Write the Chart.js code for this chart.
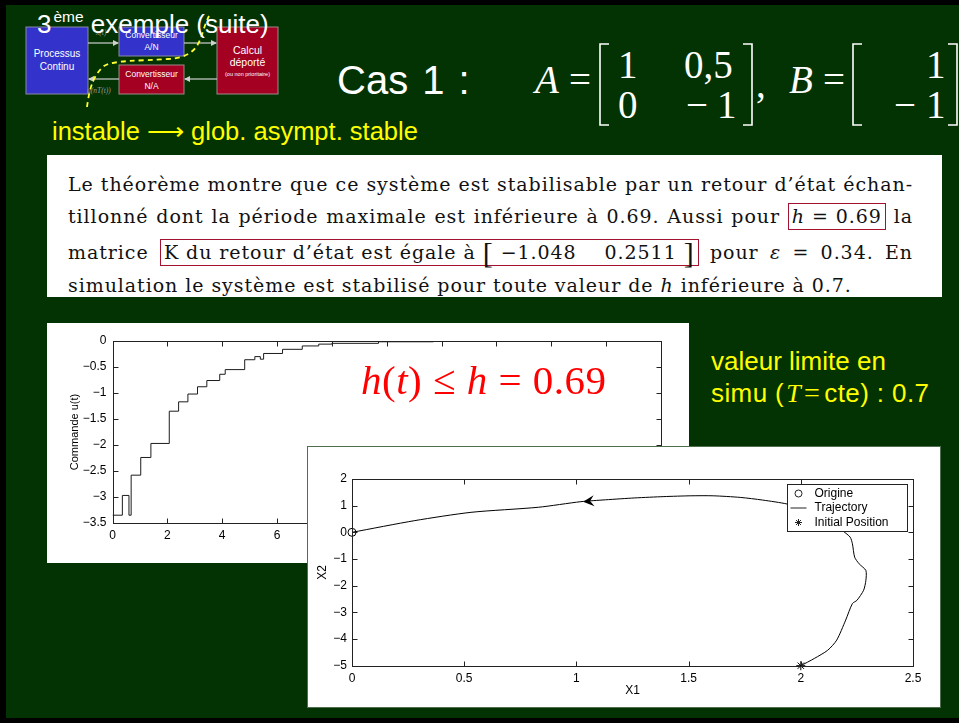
<!DOCTYPE html>
<html lang="fr">
<head>
<meta charset="utf-8">
<title>3ème exemple (suite)</title>
<script src="https://cdn.jsdelivr.net/npm/chart.js@4.4.1/dist/chart.umd.min.js"></script>
<style>
  html, body { margin:0; padding:0; width:959px; height:723px; overflow:hidden; background:#000; }
  .abs { position:absolute; white-space:nowrap; }
  #slide { position:absolute; left:6px; top:5px; width:953px; height:713px; background:#033303; }
  .sans { font-family:'Liberation Sans', Arial, Helvetica, sans-serif; }
  .math { font-family:'Liberation Serif', 'Times New Roman', serif; }
  .it { font-style:italic; }
  #mathrow span { line-height:39px; }
  #textbox { position:absolute; left:47px; top:155px; width:895px; height:142px; background:#fff; }
  .tline { position:absolute; left:21px; width:845px; font-family:'DejaVu Serif', serif; font-size:19px;
           line-height:19px; color:#111; text-align:justify; text-align-last:justify; white-space:nowrap; }
  .tline.last { text-align-last:left; width:auto; }
  .boxed { display:inline-block; border:1.5px solid #a3122f; padding:3px 3px; margin:-5px 0; line-height:19px; }
  .big { font-family:'Liberation Serif', serif; font-size:30px; font-weight:normal; vertical-align:-4px; }
  #panelU { position:absolute; left:47px; top:323px; width:642px; height:240px; background:#fff; }
  #panelL { position:absolute; left:307px; top:446px; width:634px; height:262px; background:#fff;
            box-sizing:border-box; border:1px solid #4f6f4f; }
  #panelU canvas, #panelL canvas { position:absolute; left:0; top:0; }
</style>
</head>
<body>
<div id="slide"></div>

<!-- block diagram of the networked control loop -->
<svg class="abs" style="left:0;top:0" width="300" height="120" viewBox="0 0 300 120">
  <defs>
    <marker id="ah" markerWidth="6" markerHeight="6" refX="5" refY="3" orient="auto" markerUnits="userSpaceOnUse">
      <path d="M0,0 L6,3 L0,6 z" fill="#d0d0d0"/>
    </marker>
  </defs>
  <rect x="26" y="27" width="62" height="67" fill="#3333cc" stroke="#8a8aa0" stroke-width="1"/>
  <rect x="119" y="27" width="65" height="29" fill="#3333cc" stroke="#8a8aa0" stroke-width="1"/>
  <rect x="119" y="65" width="65" height="29" fill="#a30022" stroke="#a08a8a" stroke-width="1"/>
  <rect x="217" y="27" width="61" height="67" fill="#a30022" stroke="#a08a8a" stroke-width="1"/>
  <g stroke="#d0d0d0" stroke-width="1.2" fill="none">
    <line x1="88" y1="43" x2="118" y2="43" marker-end="url(#ah)"/>
    <line x1="184" y1="43" x2="216" y2="43" marker-end="url(#ah)"/>
    <line x1="217" y1="79" x2="185" y2="79" marker-end="url(#ah)"/>
    <line x1="119" y1="79" x2="89" y2="79" marker-end="url(#ah)"/>
  </g>
  <g font-family="Liberation Sans, Arial, sans-serif" fill="#fff" text-anchor="middle">
    <text x="57" y="57" font-size="10">Processus</text>
    <text x="57" y="70" font-size="10">Continu</text>
    <text x="151.5" y="38" font-size="8.5">Convertisseur</text>
    <text x="151.5" y="50" font-size="8.5">A/N</text>
    <text x="151.5" y="77" font-size="8.5">Convertisseur</text>
    <text x="151.5" y="89" font-size="8.5">N/A</text>
    <text x="247.5" y="54" font-size="10.5">Calcul</text>
    <text x="247.5" y="66" font-size="10.5">déporté</text>
    <text x="247.5" y="76" font-size="5.5">(ou non prioritaire)</text>
  </g>
  <g font-family="Liberation Serif, serif" font-style="italic" fill="#9a9a9a" font-size="7.5">
    <text x="96" y="35">x(t)</text>
    <text x="87" y="93">u(nT(t))</text>
  </g>
  <path d="M87,107 C89,92 92,76 104,66 C114,60 140,61 168,59 C186,58 195,52 200,40 C203,32 205,24 209,16"
        fill="none" stroke="#ffff33" stroke-width="1.8" stroke-dasharray="5,4"/>
</svg>

<!-- slide title -->
<div class="abs sans" style="left:37px;top:6px;color:#fff;font-size:26px;line-height:36px;">3<span style="font-size:15.5px;position:relative;top:-11px;margin-left:2px;">ème</span> exemple (suite)</div>

<!-- case heading and system matrices -->
<div class="abs sans" style="left:337px;top:57px;color:#fff;font-size:40px;line-height:46px;word-spacing:3px;">Cas 1 :</div>
<svg class="abs" style="left:0;top:0" width="959" height="150" viewBox="0 0 959 150">
  <g stroke="#fff" stroke-width="1.6" fill="none">
    <path d="M609,44 L600,44 L600,125 L609,125"/>
    <path d="M743,44 L752,44 L752,125 L743,125"/>
    <path d="M862,44 L853,44 L853,125 L862,125"/>
    <path d="M948,44 L957,44 L957,125 L948,125"/>
  </g>
</svg>
<div id="mathrow" class="math" style="color:#fff;font-size:39px;">
  <span class="abs it" style="left:535px;top:60px;">A</span>
  <span class="abs" style="left:569px;top:60px;">=</span>
  <span class="abs" style="left:618px;top:45px;">1</span>
  <span class="abs" style="left:684px;top:45px;">0,5</span>
  <span class="abs" style="left:618px;top:85px;">0</span>
  <span class="abs" style="left:686px;top:85px;">−</span>
  <span class="abs" style="left:717px;top:85px;">1</span>
  <span class="abs" style="left:756px;top:64px;">,</span>
  <span class="abs it" style="left:789px;top:60px;">B</span>
  <span class="abs" style="left:823px;top:60px;">=</span>
  <span class="abs" style="left:926px;top:45px;">1</span>
  <span class="abs" style="left:894px;top:85px;">−</span>
  <span class="abs" style="left:926px;top:85px;">1</span>
</div>
<div class="abs sans" style="left:52px;top:116px;color:#ffff00;font-size:25.5px;line-height:30px;">instable <span class="math" style="font-size:26px;">⟶</span> glob. asympt. stable</div>

<!-- excerpt from the theorem's application -->
<div id="textbox">
  <div class="tline" style="top:20px;">Le théorème montre que ce système est stabilisable par un retour d’état échan-</div>
  <div class="tline" style="top:52px;">tillonné dont la période maximale est inférieure à 0.69. Aussi pour <span class="boxed"><i>h</i> = 0.69</span> la</div>
  <div class="tline" style="top:88px;">matrice <span class="boxed">K du retour d’état est égale à <span class="big">[</span> −1.048 &nbsp;&nbsp; 0.2511 <span class="big">]</span></span> pour <i>ε</i> = 0.34. En</div>
  <div class="tline last" id="lastLine" style="top:121px;">simulation le système est stabilisé pour toute valeur de <i>h</i> inférieure à 0.7.</div>
</div>

<!-- sampled control signal -->
<div id="panelU"><canvas id="cmdChart" width="642" height="240"></canvas></div>
<div class="abs math" style="left:361px;top:357px;color:#ff0000;font-size:41px;line-height:46px;letter-spacing:0.5px;"><i>h</i>(<i>t</i>) ≤ <i>h</i> = 0.69</div>

<div class="abs sans" style="left:711px;top:345px;color:#ffff00;font-size:26px;line-height:32px;">valeur limite en<br><span style="letter-spacing:0.4px;">simu (<span class="math it" style="margin-left:2px;">T</span><span class="math" style="margin:0 4px 0 3px;font-size:28px;">=</span>cte) : 0.7</span></div>

<!-- phase portrait -->
<div id="panelL"><canvas id="phaseChart" width="632" height="260"></canvas></div>

<script>
// Spread the paragraph letters so the last, unjustified line keeps its set width
(function () {
  const last = document.getElementById('lastLine');
  const natural = last.getBoundingClientRect().width;
  const chars = last.textContent.length;
  const ls = Math.max(0, (784 - natural) / chars);
  document.querySelectorAll('.tline').forEach(el => { el.style.letterSpacing = ls.toFixed(2) + 'px'; });
})();

// Zero-order-hold control u(t): sampling instants and held values
const sampleTimes   = [0, 0.36, 0.60, 0.68, 1.03, 1.40, 2.07, 2.41, 2.75, 3.10, 3.44, 3.91, 4.11, 4.82, 5.19, 5.39, 5.51, 6.20, 6.92, 7.52, 8.00, 9.70, 11.70, 14.50];
const commandValues = [-3.35, -2.97, -3.35, -2.58, -2.24, -1.97, -1.35, -1.17, -1.02, -0.88, -0.76, -0.64, -0.55, -0.36, -0.30, -0.35, -0.24, -0.16, -0.095, -0.06, -0.045, -0.015, -0.005, -0.005];
const timeTicks     = [0, 2, 4, 6, 8, 10, 12, 14, 16, 18, 20];
const commandTicks  = [-3.5, -3, -2.5, -2, -1.5, -1, -0.5, 0];

// State trajectory (X1, X2) from the initial position back to the origin
const trajX1 = [2.00, 2.06, 2.12, 2.16, 2.20, 2.23, 2.25, 2.28, 2.29, 2.29, 2.26, 2.24, 2.23, 2.22, 2.19, 2.17, 2.12, 2.04, 1.94, 1.83, 1.73, 1.61, 1.51, 1.39, 1.26, 1.13, 1.02, 0.83, 0.53, 0.28, 0.00];
const trajX2 = [-5.00, -4.73, -4.42, -4.04, -3.29, -2.67, -2.55, -2.17, -1.80, -1.43, -1.18, -0.93, -0.43, -0.18, 0.04, 0.20, 0.45, 0.80, 1.06, 1.21, 1.31, 1.37, 1.37, 1.34, 1.29, 1.22, 1.15, 0.94, 0.75, 0.44, 0.00];
const originPoint  = { x: 0, y: 0 };
const initialPoint = { x: 2, y: -5 };
const arrowAt      = { x: 1.03, y: 1.15 };
const x1Ticks = [0, 0.5, 1, 1.5, 2, 2.5];
const x2Ticks = [-5, -4, -3, -2, -1, 0, 1, 2];

Chart.defaults.font.family = "'Liberation Sans', Arial, Helvetica, sans-serif";
Chart.defaults.color = '#000';

const minus = v => String(v).replace('-', '\u2212');

// Box around the axes with inward tick marks on every side
const axesBox = {
  id: 'axesBox',
  afterDatasetsDraw(chart) {
    const { ctx, chartArea: a, scales } = chart;
    const L = Math.round(a.left) + 0.5, R = Math.round(a.right) + 0.5;
    const T = Math.round(a.top) + 0.5, B = Math.round(a.bottom) + 0.5;
    ctx.save();
    ctx.strokeStyle = '#222';
    ctx.lineWidth = 1;
    ctx.strokeRect(L, T, R - L, B - T);
    ctx.beginPath();
    scales.x.ticks.forEach(t => {
      const p = Math.round(scales.x.getPixelForValue(t.value)) + 0.5;
      ctx.moveTo(p, B); ctx.lineTo(p, B - 5);
      ctx.moveTo(p, T); ctx.lineTo(p, T + 5);
    });
    scales.y.ticks.forEach(t => {
      const p = Math.round(scales.y.getPixelForValue(t.value)) + 0.5;
      ctx.moveTo(L, p); ctx.lineTo(L + 5, p);
      ctx.moveTo(R, p); ctx.lineTo(R - 5, p);
    });
    ctx.stroke();
    ctx.restore();
  }
};

function fixedTicks(values) {
  return scale => { scale.ticks = values.map(v => ({ value: v })); };
}

new Chart(document.getElementById('cmdChart'), {
  type: 'line',
  data: {
    datasets: [{
      data: sampleTimes.map((t, i) => ({ x: t, y: commandValues[i] })),
      stepped: 'before',
      borderColor: '#1c1c1c',
      borderWidth: 1,
      pointRadius: 0,
      fill: false
    }]
  },
  options: {
    responsive: false,
    animation: false,
    layout: { padding: { top: 18, right: 28, left: 0, bottom: 0 } },
    plugins: { legend: { display: false }, tooltip: { enabled: false } },
    scales: {
      x: {
        type: 'linear', min: 0, max: 20,
        afterBuildTicks: fixedTicks(timeTicks),
        afterFit: s => { s.height = 40; },
        grid: { display: false, drawTicks: false },
        border: { display: false },
        ticks: { padding: 5, font: { size: 12 }, maxRotation: 0, callback: minus }
      },
      y: {
        min: -3.5, max: 0,
        afterBuildTicks: fixedTicks(commandTicks),
        afterFit: s => { s.width = 65.5; },
        grid: { display: false, drawTicks: false },
        border: { display: false },
        ticks: { padding: 6, font: { size: 12 }, callback: minus },
        title: { display: true, text: 'Commande u(t)', font: { size: 11 }, padding: { top: 21, bottom: 0 } }
      }
    }
  },
  plugins: [axesBox]
});

// Legend box and direction arrow drawn inside the phase plot
const phaseDecor = {
  id: 'phaseDecor',
  afterDraw(chart) {
    const { ctx, chartArea: a, scales } = chart;
    // arrowhead along the trajectory
    const ax = scales.x.getPixelForValue(arrowAt.x), ay = scales.y.getPixelForValue(arrowAt.y);
    const i = trajX1.findIndex((v, k) => k > 0 && v < arrowAt.x);
    const bx = scales.x.getPixelForValue(trajX1[i - 1]), by = scales.y.getPixelForValue(trajX2[i - 1]);
    const ang = Math.atan2(ay - by, ax - bx);
    ctx.save();
    ctx.translate(ax, ay);
    ctx.rotate(ang);
    ctx.fillStyle = '#000';
    ctx.beginPath();
    ctx.moveTo(0, 0);
    ctx.lineTo(-11, -5.5);
    ctx.lineTo(-7, 0);
    ctx.lineTo(-11, 5.5);
    ctx.closePath();
    ctx.fill();
    ctx.restore();

    // legend
    const w = 120, h = 47;
    const x0 = Math.round(a.right - 6 - w) + 0.5, y0 = Math.round(a.top + 5) + 0.5;
    ctx.save();
    ctx.fillStyle = '#fff';
    ctx.fillRect(x0, y0, w, h);
    ctx.strokeStyle = '#222';
    ctx.lineWidth = 1;
    ctx.strokeRect(x0, y0, w, h);
    ctx.fillStyle = '#000';
    ctx.font = "12px 'Liberation Sans', Arial, sans-serif";
    ctx.textBaseline = 'middle';
    const rows = [y0 + 9, y0 + 23.5, y0 + 38];
    const labels = ['Origine', 'Trajectory', 'Initial Position'];
    labels.forEach((t, k) => ctx.fillText(t, x0 + 27, rows[k]));
    const sx = x0 + 11;
    ctx.beginPath();
    ctx.arc(sx, rows[0], 3.5, 0, Math.PI * 2);
    ctx.stroke();
    ctx.beginPath();
    ctx.moveTo(x0 + 3, rows[1]); ctx.lineTo(x0 + 19, rows[1]);
    ctx.stroke();
    ctx.beginPath();
    for (let k = 0; k < 4; k++) {
      const t = k * Math.PI / 4;
      ctx.moveTo(sx + 3.5 * Math.cos(t), rows[2] + 3.5 * Math.sin(t));
      ctx.lineTo(sx - 3.5 * Math.cos(t), rows[2] - 3.5 * Math.sin(t));
    }
    ctx.stroke();
    ctx.restore();
  }
};

new Chart(document.getElementById('phaseChart'), {
  type: 'scatter',
  data: {
    datasets: [
      {
        label: 'Origine',
        data: [originPoint],
        pointStyle: 'circle', pointRadius: 4,
        borderColor: '#000', backgroundColor: 'rgba(0,0,0,0)', borderWidth: 1,
        clip: false
      },
      {
        label: 'Trajectory',
        data: trajX1.map((v, i) => ({ x: v, y: trajX2[i] })),
        showLine: true, tension: 0.25,
        borderColor: '#000', borderWidth: 1, pointRadius: 0
      },
      {
        label: 'Initial Position',
        data: [initialPoint],
        pointStyle: 'star', pointRadius: 4.5,
        borderColor: '#000', backgroundColor: '#000', borderWidth: 1,
        clip: false
      }
    ]
  },
  options: {
    responsive: false,
    animation: false,
    layout: { padding: { top: 32, right: 27, left: 0, bottom: 0 } },
    plugins: { legend: { display: false }, tooltip: { enabled: false } },
    scales: {
      x: {
        type: 'linear', min: 0, max: 2.5,
        afterBuildTicks: fixedTicks(x1Ticks),
        afterFit: s => { s.height = 41.3; },
        grid: { display: false, drawTicks: false },
        border: { display: false },
        ticks: { padding: 6, font: { size: 12 }, maxRotation: 0, callback: minus },
        title: { display: true, text: 'X1', font: { size: 12 }, padding: { top: 0, bottom: 9 } }
      },
      y: {
        min: -5, max: 2,
        afterBuildTicks: fixedTicks(x2Ticks),
        afterFit: s => { s.width = 44; },
        grid: { display: false, drawTicks: false },
        border: { display: false },
        ticks: { padding: 5, font: { size: 12 }, callback: minus },
        title: { display: true, text: 'X2', font: { size: 12 }, padding: { top: 7, bottom: 0 } }
      }
    }
  },
  plugins: [axesBox, phaseDecor]
});
</script>
</body>
</html>
